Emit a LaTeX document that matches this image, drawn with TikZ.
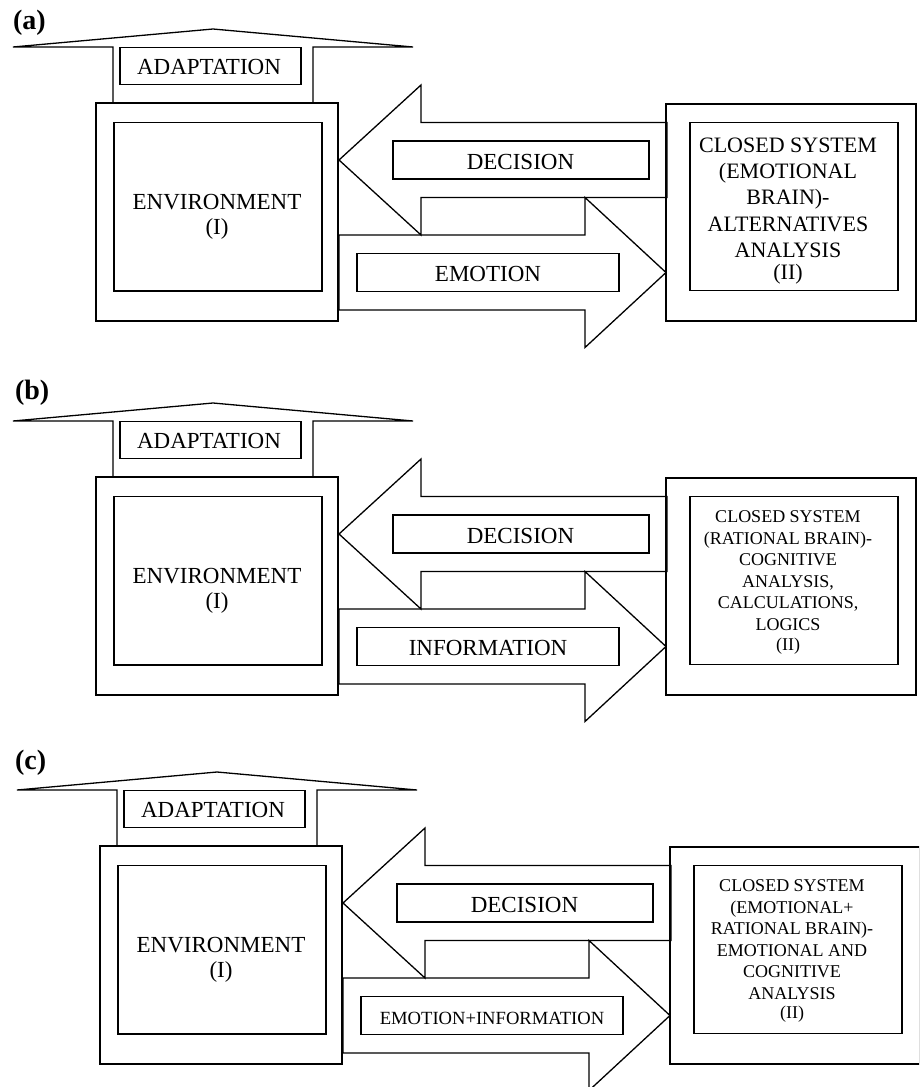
\documentclass[tikz,border=0pt]{standalone}
\usepackage{fontspec}
\setmainfont{Liberation Serif}
\tikzset{
  ln/.style={line width=1.3pt},
  box/.style={draw, ln, inner sep=0pt, outer sep=0pt},
  blk/.style={draw, ln, line join=miter},
  roof/.style={draw, ln, line join=miter},
  txt/.style={inner sep=0pt, outer sep=0pt, font=\fontsize{23}{25.3}\selectfont},
  rtxt/.style={inner sep=0pt, outer sep=0pt, align=center, anchor=north},
  plab/.style={inner sep=0pt, outer sep=0pt, anchor=base west, font=\fontsize{28}{28}\selectfont\bfseries},
}
% #1 suffix, #2 lower arrow label, #3 font of right text, #4 right text
\newcommand{\drawpanel}[4]{%
  % environment
  \node[box, minimum width=242pt, minimum height=218pt] (envo-#1) at (217,212) {};
  \node[box, minimum width=208pt, minimum height=168.5pt] (envi-#1) at (218,206.75) {};
  \node[txt, align=center, anchor=north] (envt-#1) at (217,191.8) {\strut ENVIRONMENT\\(I)};
  % adaptation arrow
  \coordinate (peak-#1) at (213,29);
  \draw[roof] (113,103) -- (113,47) -- (13,47) -- (peak-#1) -- (413,47) -- (313,47) -- (313,103);
  \node[box, minimum width=181pt, minimum height=37pt] (adb-#1) at (210.5,66) {};
  \node[txt, anchor=base] (adt-#1) at (209,74) {ADAPTATION};
  % decision arrow
  \coordinate (dtip-#1) at (339,160);
  \draw[blk] (dtip-#1) -- (421,85) -- (421,122.5) -- (667,122.5) -- (667,197.5) -- (421,197.5) -- (421,235) -- cycle;
  \node[box, minimum width=256pt, minimum height=38pt] (decb-#1) at (521,160) {};
  \node[txt, anchor=base] (dect-#1) at (520.5,169) {DECISION};
  % lower arrow
  \coordinate (etip-#1) at (666,272.5);
  \draw[blk] (339,235) -- (585,235) -- (585,197.5) -- (etip-#1) -- (585,347.5) -- (585,310) -- (339,310) -- cycle;
  \node[box, minimum width=262pt, minimum height=38pt] (lowb-#1) at (488,272.5) {};
  \node[txt, anchor=base] (lowt-#1) at (488,281) {#2};
  % closed system
  \node[box, minimum width=250pt, minimum height=217pt] (syso-#1) at (791,212.5) {};
  \node[box, minimum width=208pt, minimum height=168pt] (sysi-#1) at (794,206.5) {};
  \node[rtxt, font=#3] (syst-#1) at (788,133.7) {#4};
}
\begin{document}
\begin{tikzpicture}[x=1pt,y=-1pt]
\clip (0,0) rectangle (919,1087);
\fill[white] (0,0) rectangle (919,1087);
% (a)
\node[plab] (lab-a) at (13,29) {(a)};
\begin{scope}
\drawpanel{a}{EMOTION}{\fontsize{22}{26.4}\selectfont}{\strut CLOSED SYSTEM\\(EMOTIONAL\\BRAIN)-\\ALTERNATIVES\\ANALYSIS\\[-4.8pt](II)}
\end{scope}
% (b)
\node[plab] (lab-b) at (15,399) {(b)};
\begin{scope}[shift={(0,374)}]
\drawpanel{b}{INFORMATION}{\fontsize{18}{21.5}\selectfont}{\strut CLOSED SYSTEM\\(RATIONAL BRAIN)-\\COGNITIVE\\ANALYSIS,\\CALCULATIONS,\\LOGICS\\[-1.5pt](II)}
\end{scope}
% (c)
\node[plab] (lab-c) at (15,769) {(c)};
\begin{scope}[shift={(4,743)}]
\drawpanel{c}{{\fontsize{18.6}{20}\selectfont EMOTION+INFORMATION}}{\fontsize{18}{21.5}\selectfont}{\strut CLOSED SYSTEM\\(EMOTIONAL+\\RATIONAL BRAIN)-\\EMOTIONAL AND\\COGNITIVE\\ANALYSIS\\[-2pt](II)}
\end{scope}
\end{tikzpicture}
\end{document}
